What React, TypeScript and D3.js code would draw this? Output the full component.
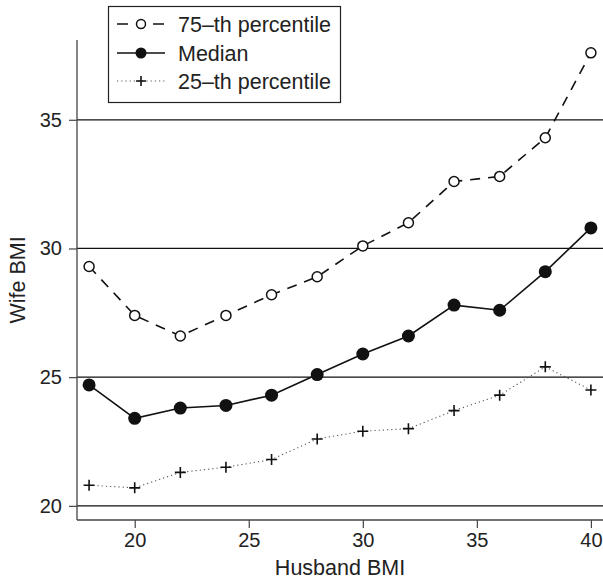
import React, { useRef, useEffect } from "react";
import * as d3 from "d3";

const husbandBmi = [18, 20, 22, 24, 26, 28, 30, 32, 34, 36, 38, 40];
const p75 = [29.3, 27.4, 26.6, 27.4, 28.2, 28.9, 30.1, 31.0, 32.6, 32.8, 34.3, 37.6];
const median = [24.7, 23.4, 23.8, 23.9, 24.3, 25.1, 25.9, 26.6, 27.8, 27.6, 29.1, 30.8];
const p25 = [20.8, 20.7, 21.3, 21.5, 21.8, 22.6, 22.9, 23.0, 23.7, 24.3, 25.4, 24.5];
const xTicks = [20, 25, 30, 35, 40];
const yTicks = [20, 25, 30, 35];
const legendLabels = ["75\u2013th percentile", "Median", "25\u2013th percentile"];

const W = 603;
const H = 580;
const FONT = "Liberation Sans, Arial, sans-serif";

const App = () => {
  const ref = useRef<SVGSVGElement | null>(null);

  useEffect(() => {
    if (!ref.current) return;
    const svg = d3.select(ref.current);
    svg.selectAll("*").remove();

    const left = 77, right = 603, top = 40, bottom = 520;
    const x = d3.scaleLinear().domain([17.47, 40.53]).range([left, right]);
    const y = d3.scaleLinear().domain([19.45, 38.1]).range([bottom, top]);

    // horizontal reference lines
    svg.append("g")
      .selectAll("line")
      .data(yTicks)
      .enter()
      .append("line")
      .attr("x1", left)
      .attr("x2", right)
      .attr("y1", (d) => y(d))
      .attr("y2", (d) => y(d))
      .attr("stroke", "#111")
      .attr("stroke-width", 1.2);

    // y axis
    const gy = svg.append("g")
      .attr("transform", `translate(${left},0)`)
      .call(d3.axisLeft(y).tickValues(yTicks).tickSize(8).tickPadding(7));
    gy.select(".domain").remove();
    gy.append("line").attr("x1", 0).attr("x2", 0).attr("y1", top).attr("y2", bottom)
      .attr("stroke", "#444").attr("stroke-width", 1.3);
    gy.selectAll(".tick line").attr("stroke", "#444").attr("stroke-width", 1.2);
    gy.selectAll(".tick text").attr("font-size", 20).attr("font-family", FONT).attr("fill", "#222");

    // x axis
    const gx = svg.append("g")
      .attr("transform", `translate(0,${bottom})`)
      .call(d3.axisBottom(x).tickValues(xTicks).tickSize(8).tickPadding(5));
    gx.select(".domain").remove();
    gx.append("line").attr("x1", left).attr("x2", right).attr("y1", 0).attr("y2", 0)
      .attr("stroke", "#444").attr("stroke-width", 1.3);
    gx.selectAll(".tick line").attr("stroke", "#444").attr("stroke-width", 1.2);
    gx.selectAll(".tick text").attr("font-size", 20).attr("font-family", FONT).attr("fill", "#222");

    svg.append("text")
      .attr("x", 340).attr("y", 575)
      .attr("text-anchor", "middle")
      .attr("font-size", 21.5).attr("font-family", FONT).attr("fill", "#222")
      .text("Husband BMI");
    svg.append("text")
      .attr("transform", "translate(25,280) rotate(-90)")
      .attr("text-anchor", "middle")
      .attr("font-size", 21.5).attr("font-family", FONT).attr("fill", "#222")
      .text("Wife BMI");

    const line = d3.line<[number, number]>().x((d) => x(d[0])).y((d) => y(d[1]));
    const pts = (vals: number[]) => husbandBmi.map((h, i) => [h, vals[i]] as [number, number]);

    // 75th percentile: dashed, open circles
    svg.append("path").datum(pts(p75)).attr("d", line).attr("fill", "none")
      .attr("stroke", "#111").attr("stroke-width", 1.6).attr("stroke-dasharray", "10,8");
    svg.append("g").selectAll("circle").data(pts(p75)).enter().append("circle")
      .attr("cx", (d) => x(d[0])).attr("cy", (d) => y(d[1])).attr("r", 5)
      .attr("fill", "white").attr("stroke", "#111").attr("stroke-width", 1.5);

    // median: solid, filled circles
    svg.append("path").datum(pts(median)).attr("d", line).attr("fill", "none")
      .attr("stroke", "#111").attr("stroke-width", 1.6);
    svg.append("g").selectAll("circle").data(pts(median)).enter().append("circle")
      .attr("cx", (d) => x(d[0])).attr("cy", (d) => y(d[1])).attr("r", 6.5)
      .attr("fill", "#111");

    // 25th percentile: dotted, plus markers
    svg.append("path").datum(pts(p25)).attr("d", line).attr("fill", "none")
      .attr("stroke", "#555").attr("stroke-width", 1.1).attr("stroke-dasharray", "1.2,3");
    svg.append("g").selectAll("path").data(pts(p25)).enter().append("path")
      .attr("d", (d) => {
        const cx = x(d[0]), cy = y(d[1]), s = 5.5;
        return `M${cx - s},${cy}H${cx + s}M${cx},${cy - s}V${cy + s}`;
      })
      .attr("stroke", "#111").attr("stroke-width", 1.6);

    // legend
    const lg = svg.append("g");
    lg.append("rect").attr("x", 108.5).attr("y", 6.5).attr("width", 232).attr("height", 96)
      .attr("fill", "white").attr("stroke", "#222").attr("stroke-width", 1.2);
    const rows = [24, 53, 81];
    legendLabels.forEach((lab, i) => {
      const yy = rows[i];
      if (i === 0) {
        lg.append("line").attr("x1", 117).attr("x2", 165).attr("y1", yy).attr("y2", yy)
          .attr("stroke", "#111").attr("stroke-width", 1.6).attr("stroke-dasharray", "11,25");
        lg.append("circle").attr("cx", 141).attr("cy", yy).attr("r", 4.5)
          .attr("fill", "white").attr("stroke", "#111").attr("stroke-width", 1.5);
      } else if (i === 1) {
        lg.append("line").attr("x1", 117).attr("x2", 165).attr("y1", yy).attr("y2", yy)
          .attr("stroke", "#111").attr("stroke-width", 1.6);
        lg.append("circle").attr("cx", 141).attr("cy", yy).attr("r", 5.5).attr("fill", "#111");
      } else {
        lg.append("line").attr("x1", 117).attr("x2", 165).attr("y1", yy).attr("y2", yy)
          .attr("stroke", "#555").attr("stroke-width", 1.1).attr("stroke-dasharray", "1.2,3");
        lg.append("path").attr("d", `M${136},${yy}H${146}M${141},${yy - 5}V${yy + 5}`)
          .attr("stroke", "#111").attr("stroke-width", 1.6);
      }
      lg.append("text").attr("x", 178).attr("y", yy).attr("dy", "0.35em")
        .attr("font-size", 21.5).attr("font-family", FONT).attr("fill", "#222").text(lab);
    });
  }, []);

  return (
    <svg ref={ref} width={W} height={H} style={{ position: "absolute", left: 0, top: 0, background: "white" }} />
  );
};

export default App;
